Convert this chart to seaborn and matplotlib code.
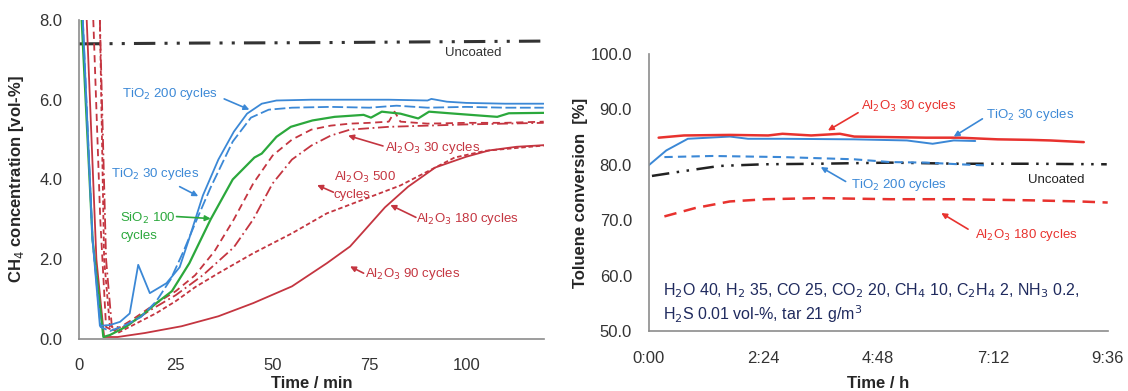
import numpy as np
import pandas as pd
import matplotlib
matplotlib.use("Agg")
import matplotlib.pyplot as plt
import seaborn as sns

# ---- left panel: CH4 concentration vs time (min) ----
t_uncoated = [0, 30, 60, 90, 120]
ch4_uncoated = [7.4, 7.42, 7.43, 7.45, 7.47]

t_ti200 = [1.0, 3.5, 5.4, 8, 10.6, 13.1, 15.3, 18.3, 20.9, 22.6, 26, 28.4, 32, 36, 40, 43.4, 47.2, 51, 60, 70, 80, 90, 91, 95, 100, 110, 120]
ch4_ti200 = [8.0, 2.5, 0.33, 0.35, 0.43, 0.64, 1.86, 1.15, 1.3, 1.4, 1.8, 2.5, 3.6, 4.5, 5.2, 5.65, 5.9, 5.98, 6.0, 6.0, 6.0, 5.98, 6.02, 5.95, 5.92, 5.9, 5.9]

t_ti30 = [1.0, 3.5, 5.6, 8, 12, 16, 20, 23.7, 27, 30, 34, 39.7, 44.4, 49, 55, 65, 75, 82, 90, 100, 110, 120]
ch4_ti30 = [8.0, 2.5, 0.3, 0.2, 0.35, 0.55, 0.95, 1.5, 2.2, 2.9, 3.8, 4.95, 5.55, 5.75, 5.8, 5.82, 5.8, 5.85, 5.8, 5.82, 5.8, 5.8]

t_si100 = [0.7, 3.5, 6.3, 8, 12, 17, 20, 24, 28.5, 34, 39.7, 45.3, 47.2, 51, 54.7, 60.3, 66, 73.5, 75.4, 78.2, 83, 87.6, 90.4, 97, 108, 111, 120]
ch4_si100 = [8.0, 2.5, 0.05, 0.1, 0.3, 0.65, 0.9, 1.2, 1.9, 3.0, 4.0, 4.55, 4.65, 5.07, 5.32, 5.48, 5.57, 5.62, 5.55, 5.7, 5.65, 5.53, 5.7, 5.65, 5.57, 5.66, 5.67]

t_al30 = [3.7, 5.5, 7.0, 9, 14, 20, 25, 30, 35, 40, 45, 50, 55, 60, 65, 70, 75, 80, 81.5, 83, 90, 100, 110, 120]
ch4_al30 = [8.0, 3.0, 0.3, 0.2, 0.5, 0.9, 1.2, 1.6, 2.2, 3.0, 3.9, 4.6, 5.0, 5.25, 5.35, 5.4, 5.42, 5.45, 5.7, 5.45, 5.4, 5.42, 5.42, 5.45]

t_al500 = [5.4, 7, 8.5, 12, 18, 25, 32, 40, 45, 50, 55, 60, 65, 70, 80, 90, 100, 110, 120]
ch4_al500 = [8.0, 2.0, 0.3, 0.3, 0.7, 1.1, 1.6, 2.3, 3.0, 3.9, 4.5, 4.85, 5.1, 5.25, 5.32, 5.35, 5.38, 5.4, 5.42]

t_al180 = [5.4, 6.5, 8, 10, 15, 20, 25, 30, 36, 45, 55, 64, 73.5, 83, 92, 97, 105, 120]
ch4_al180 = [8.0, 2.0, 0.3, 0.15, 0.4, 0.65, 0.95, 1.3, 1.65, 2.15, 2.65, 3.15, 3.5, 3.85, 4.3, 4.55, 4.72, 4.85]

t_al90 = [2.0, 4.5, 6.5, 10, 17, 26.5, 36, 45, 55, 64, 70, 73.5, 79, 85, 92, 100, 106, 113, 120]
ch4_al90 = [8.0, 2.0, 0.05, 0.05, 0.15, 0.32, 0.57, 0.9, 1.32, 1.9, 2.32, 2.7, 3.3, 3.82, 4.3, 4.57, 4.73, 4.82, 4.86]

# ---- right panel: toluene conversion vs time (h) ----
h_al30 = [0.21, 0.74, 1.7, 2.5, 2.8, 3.4, 4.0, 4.3, 5.05, 5.8, 6.5, 7.3, 8.0, 8.4, 9.1]
conv_al30 = [84.9, 85.3, 85.4, 85.3, 85.6, 85.3, 85.6, 85.1, 85.0, 84.9, 84.9, 84.6, 84.5, 84.4, 84.1]

h_ti30 = [0.0, 0.37, 0.82, 1.7, 2.08, 2.8, 4.3, 5.4, 5.94, 6.38, 6.83]
conv_ti30 = [79.9, 82.6, 84.7, 85.1, 84.7, 84.7, 84.6, 84.4, 83.8, 84.4, 84.3]

h_ti200 = [0.33, 1.34, 2.8, 4.3, 5.05, 5.8, 6.5, 7.05]
conv_ti200 = [81.4, 81.6, 81.4, 81.0, 80.5, 80.4, 80.1, 79.9]

h_unc = [0.07, 0.6, 1.48, 2.4, 3.56, 5.05, 6.5, 8.0, 9.58]
conv_unc = [78.0, 78.7, 79.8, 80.1, 80.2, 80.4, 80.2, 80.2, 80.1]

h_al180 = [0.33, 0.97, 1.7, 2.45, 3.56, 5.05, 6.5, 8.0, 9.0, 9.6]
conv_al180 = [70.7, 72.2, 73.4, 73.8, 74.0, 73.8, 73.8, 73.6, 73.4, 73.2]

hour_ticks = [0, 2.4, 4.8, 7.2, 9.6]
hour_labels = ["0:00", "2:24", "4:48", "7:12", "9:36"]

BLUE = "#3b88d6"
GREEN = "#2ba83c"
DRED = "#c43540"
RED = "#e8322e"
GREY = "#8c8c8c"
narrow = ["Liberation Sans", "DejaVu Sans"]

sns.set_style("white")
plt.rcParams["font.family"] = ["Liberation Sans", "DejaVu Sans"]

fig = plt.figure(figsize=(11.28, 3.91), dpi=100)
ax1 = fig.add_axes([0.070, 0.133, 0.412, 0.816])
ax2 = fig.add_axes([0.575, 0.153, 0.407, 0.709])

dashdotdot = (0, (7, 3, 1, 3, 1, 3))

def line(ax, x, y, color, ls="-", lw=1.3):
    sns.lineplot(x=x, y=y, ax=ax, color=color, linestyle=ls, linewidth=lw,
                 estimator=None, sort=False)

#left panel lines
line(ax1, t_uncoated, ch4_uncoated, "#333333", dashdotdot, 2.2)
line(ax1, t_al90, ch4_al90, DRED)
line(ax1, t_al180, ch4_al180, DRED, (0, (2.5, 1.5)))
line(ax1, t_al500, ch4_al500, DRED, (0, (6, 2, 1, 2)))
line(ax1, t_al30, ch4_al30, DRED, (0, (4, 2.5)))
line(ax1, t_si100, ch4_si100, GREEN, "-", 1.6)
line(ax1, t_ti30, ch4_ti30, BLUE, (0, (6, 2)))
line(ax1, t_ti200, ch4_ti200, BLUE)

ax1.set_xlim(0, 120)
ax1.set_ylim(0, 8)
ax1.set_xticks([0, 25, 50, 75, 100])
ax1.set_yticks([0, 2, 4, 6, 8])
ax1.yaxis.set_major_formatter(plt.FormatStrFormatter("%.1f"))
ax1.tick_params(direction="in", length=4, color=GREY, labelsize=12, labelcolor="#333333")
ax1.tick_params(axis="y", pad=12)
ax1.tick_params(axis="x", pad=14)
ax1.set_ylabel("CH$_4$ concentration [vol-%]", fontsize=12, fontweight="bold")
ax1.set_xlabel("Time / min", fontsize=12, fontweight="bold")
ax1.yaxis.set_label_coords(-0.114, 0.5)
ax1.xaxis.set_label_coords(0.5, -0.116)

arrow_kw = dict(arrowstyle="-|>", lw=1.2, mutation_scale=8, shrinkA=0, shrinkB=0)

def arrow(ax, tip, tail, color):
    ax.annotate("", xy=tip, xytext=tail, arrowprops=dict(color=color, **arrow_kw))

ax1.text(94.5, 7.17, "Uncoated", color="#333333", fontsize=9.5, family=narrow, va="center")
ax1.text(11, 6.15, "TiO$_2$ 200 cycles", color=BLUE, fontsize=9.5, family=narrow, va="center")
arrow(ax1, (44, 5.75), (37.5, 6.02), BLUE)
ax1.text(8.2, 4.13, "TiO$_2$ 30 cycles", color=BLUE, fontsize=9.5, family=narrow, va="center")
arrow(ax1, (30.8, 3.58), (26, 3.82), BLUE)
ax1.text(10.6, 2.82, "SiO$_2$ 100\ncycles", color=GREEN, fontsize=9.5, family=narrow, va="center", linespacing=1.5)
arrow(ax1, (34, 3.02), (25.2, 3.07), GREEN)
for txt, tip, tail, pos in [
        ("Al$_2$O$_3$ 30 cycles", (69.5, 5.1), (78.5, 4.84), (79, 4.78)),
        ("Al$_2$O$_3$ 500\ncycles", (61.5, 3.86), (65.7, 3.68), (65.8, 3.85)),
        ("Al$_2$O$_3$ 180 cycles", (80.4, 3.36), (87, 3.05), (87, 3.02)),
        ("Al$_2$O$_3$ 90 cycles", (70, 1.82), (73.5, 1.65), (73.8, 1.63))]:
    ax1.text(pos[0], pos[1], txt, color=DRED, fontsize=9.5, family=narrow, va="center", linespacing=1.5)
    arrow(ax1, tip, tail, DRED)

#right panel lines
line(ax2, h_unc, conv_unc, "#222222", dashdotdot, 1.8)
line(ax2, h_al180, conv_al180, RED, (0, (5, 3)), 1.8)
line(ax2, h_ti200, conv_ti200, BLUE, (0, (4, 2.5)), 1.5)
line(ax2, h_ti30, conv_ti30, BLUE, "-", 1.4)
line(ax2, h_al30, conv_al30, RED, "-", 1.8)

ax2.set_xlim(0, 9.6)
ax2.set_ylim(50, 100)
ax2.set_xticks(hour_ticks)
ax2.set_xticklabels(hour_labels)
ax2.set_yticks([50, 60, 70, 80, 90, 100])
ax2.yaxis.set_major_formatter(plt.FormatStrFormatter("%.1f"))
ax2.tick_params(direction="out", length=4, color=GREY, labelsize=12, labelcolor="#333333")
ax2.tick_params(axis="y", pad=8)
ax2.tick_params(axis="x", pad=10)
ax2.set_ylabel("Toluene conversion  [%]", fontsize=12, fontweight="bold")
ax2.set_xlabel("Time / h", fontsize=12, fontweight="bold")
ax2.yaxis.set_label_coords(-0.131, 0.5)
ax2.xaxis.set_label_coords(0.5, -0.162)

for txt, tip, tail, pos, c in [
        ("Al$_2$O$_3$ 30 cycles", (3.75, 86.2), (4.38, 89.4), (4.45, 90.7), RED),
        ("TiO$_2$ 30 cycles", (6.38, 85.1), (6.98, 88.3), (7.05, 89.0), BLUE),
        ("TiO$_2$ 200 cycles", (3.6, 79.6), (4.12, 77.0), (4.23, 76.3), BLUE),
        ("Al$_2$O$_3$ 180 cycles", (6.12, 71.3), (6.68, 68.4), (6.83, 67.4), RED)]:
    ax2.text(pos[0], pos[1], txt, color=c, fontsize=9.5, family=narrow, va="center")
    arrow(ax2, tip, tail, c)
ax2.text(7.94, 77.2, "Uncoated", color="#222222", fontsize=9.5, family=narrow, va="center")
ax2.text(0.31, 55.1, "H$_2$O 40, H$_2$ 35, CO 25, CO$_2$ 20, CH$_4$ 10, C$_2$H$_4$ 2, NH$_3$ 0.2,\n"
         "H$_2$S 0.01 vol-%, tar 21 g/m$^3$", color="#1f2a5e", fontsize=11.5,
         va="center", ha="left", linespacing=1.2)

for ax in (ax1, ax2):
    for side in ("top", "right"):
        ax.spines[side].set_visible(False)
    for side in ("left", "bottom"):
        ax.spines[side].set_color(GREY)
        ax.spines[side].set_linewidth(1.2)

fig.savefig("out.png", dpi=100)
